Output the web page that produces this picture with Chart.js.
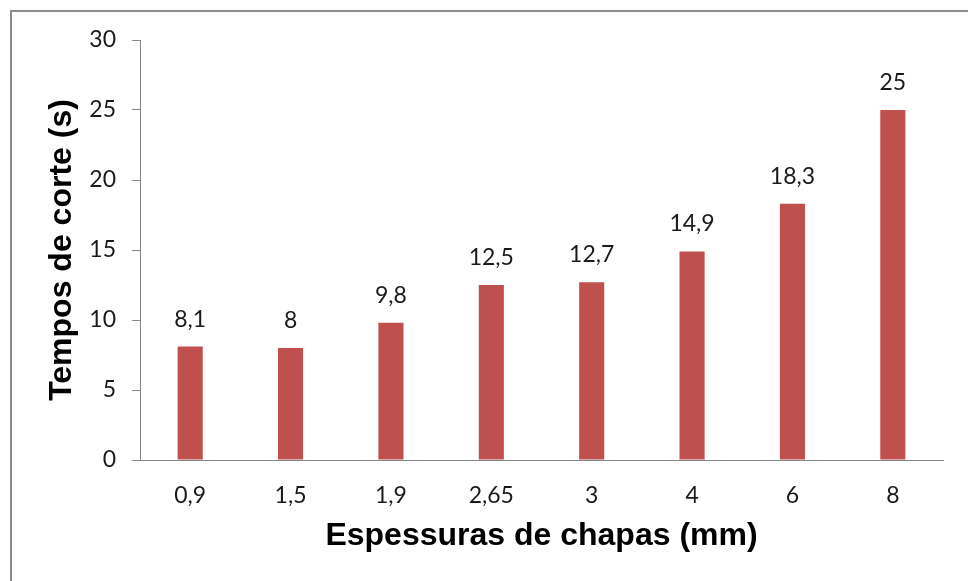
<!DOCTYPE html>
<html>
<head>
<meta charset="utf-8">
<script src="https://cdn.jsdelivr.net/npm/chart.js@4/dist/chart.umd.min.js"></script>
<style>
  html, body { margin: 0; padding: 0; background: #fff; overflow: hidden; }
  canvas { display: block; }
</style>
</head>
<body>
<canvas id="cutChart" width="968" height="581"></canvas>
<script>
// Chart data
var categories = ['0,9', '1,5', '1,9', '2,65', '3', '4', '6', '8'];
var cutTimes = [8.1, 8, 9.8, 12.5, 12.7, 14.9, 18.3, 25];
var yTicks = [0, 5, 10, 15, 20, 25, 30];

var axisGray = '#868686';

// Gray frame around the picture (only top and left edges are visible)
var framePlugin = {
    id: 'frame',
    beforeDraw: function(chart) {
        var ctx = chart.ctx;
        ctx.save();
        ctx.fillStyle = '#8c8c8c';
        ctx.fillRect(10, 10, 2, chart.height - 10);
        ctx.fillRect(10, 10, chart.width - 10, 2);
        ctx.restore();
    }
};

// Value labels above each bar, with decimal comma
var valueLabels = {
    id: 'valueLabels',
    afterDatasetsDraw: function(chart) {
        var ctx = chart.ctx;
        var meta = chart.getDatasetMeta(0);
        ctx.save();
        ctx.font = '23px Lato';
        ctx.fillStyle = '#1a1a1a';
        ctx.textAlign = 'center';
        ctx.textBaseline = 'alphabetic';
        meta.data.forEach(function(bar, i) {
            var txt = String(cutTimes[i]).replace('.', ',');
            ctx.fillText(txt, bar.x, bar.y - 20);
        });
        ctx.restore();
    }
};

document.addEventListener('DOMContentLoaded', function() {
    var ctx = document.getElementById('cutChart').getContext('2d');
    var cutChart = new Chart(ctx, {
        type: 'bar',
        data: {
            labels: categories,
            datasets: [{
                label: 'Tempos de corte',
                data: cutTimes,
                backgroundColor: '#C0504D',
                borderWidth: 0,
                categoryPercentage: 1,
                barPercentage: 0.25
            }]
        },
        options: {
            responsive: false,
            animation: false,
            layout: {
                padding: { left: 0, top: 40, right: 25, bottom: 0 }
            },
            plugins: {
                legend: { display: false },
                tooltip: { enabled: false }
            },
            scales: {
                x: {
                    grid: { display: false, drawTicks: false },
                    border: { display: true, color: axisGray, width: 1 },
                    ticks: {
                        color: '#1a1a1a',
                        font: { family: 'Lato', size: 23 },
                        padding: 22
                    },
                    title: {
                        display: true,
                        text: 'Espessuras de chapas (mm)',
                        color: '#000',
                        font: { family: 'Liberation Sans', size: 32, weight: 'bold' },
                        padding: { top: 0, bottom: 26 }
                    },
                    afterFit: function(scale) { scale.height = 121; }
                },
                y: {
                    min: 0,
                    max: 30,
                    afterBuildTicks: function(scale) {
                        scale.ticks = yTicks.map(function(v) { return { value: v }; });
                    },
                    grid: {
                        display: true,
                        drawOnChartArea: false,
                        drawTicks: true,
                        tickLength: 8,
                        color: axisGray
                    },
                    border: { display: true, color: axisGray, width: 1 },
                    ticks: {
                        color: '#1a1a1a',
                        font: { family: 'Lato', size: 23 },
                        padding: 16
                    },
                    title: {
                        display: true,
                        text: 'Tempos de corte (s)',
                        color: '#000',
                        font: { family: 'Liberation Sans', size: 32, weight: 'bold' },
                        padding: { top: 43, bottom: 0 }
                    },
                    afterFit: function(scale) { scale.width = 140; }
                }
            }
        },
        plugins: [framePlugin, valueLabels]
    });
});
</script>
</body>
</html>
